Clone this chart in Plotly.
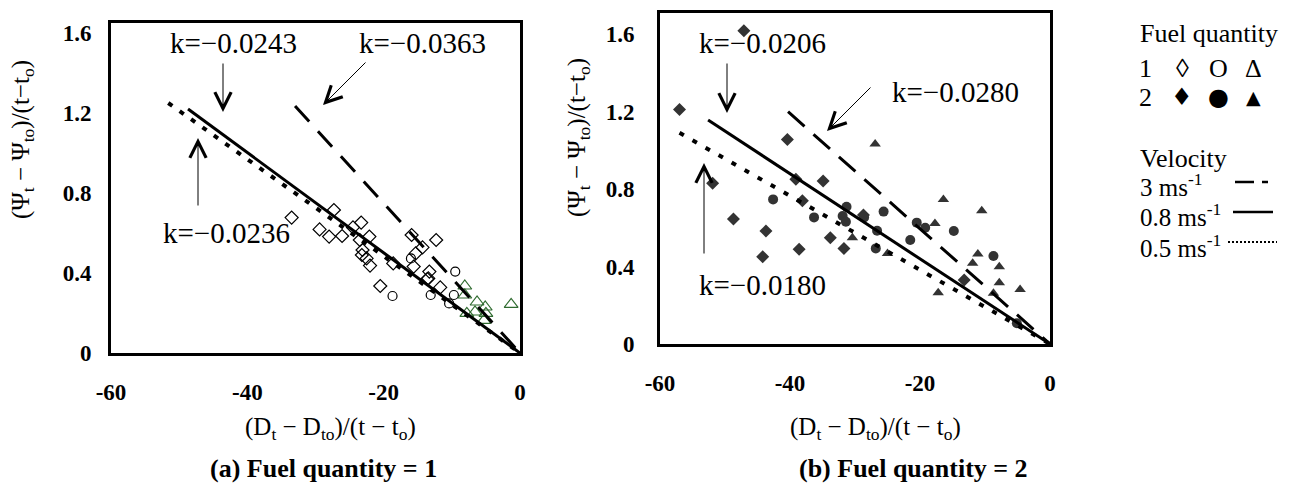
import plotly.graph_objects as go

W, H = 1295, 496

# ---------------- data: panel (a) Fuel quantity = 1 ----------------
a_diamond_x = [-33.5, -29.4, -28.0, -26.1, -27.3, -24.5, -23.3, -23.5, -22.1, -23.1, -23.2, -22.5,
               -22.0, -20.5, -15.6, -15.3, -14.3, -15.9, -12.3, -13.3, -13.45, -13.6, -11.7, -18.6]
a_diamond_y = [0.677, 0.618, 0.582, 0.585, 0.715, 0.628, 0.652, 0.565, 0.582, 0.515, 0.49, 0.473,
               0.437, 0.335, 0.432, 0.498, 0.528, 0.59, 0.565, 0.407, 0.373, 0.37, 0.328, 0.448]
a_circle_x = [-18.7, -16.0, -13.1, -9.5, -9.7, -10.4]
a_circle_y = [0.285, 0.473, 0.29, 0.407, 0.29, 0.248]
a_tri_x = [-8.1, -8.1, -6.3, -5.1, -6.6, -7.8, -5.0, -5.3, -1.3]
a_tri_y = [0.335, 0.29, 0.255, 0.23, 0.205, 0.198, 0.198, 0.163, 0.243]
a_v3_x, a_v3_y = [-33.0, 0], [1.235, 0]
a_v08_x, a_v08_y = [-48.7, 0], [1.22, 0]
a_v05_x, a_v05_y = [-51.6, 0], [1.25, 0]

# ---------------- data: panel (b) Fuel quantity = 2 ----------------
b_diamond_x = [-47.1, -57.0, -51.9, -48.7, -43.7, -44.2, -40.4, -38.6, -38.1, -34.9, -33.8, -31.7,
               -28.7, -39.1, -13.2]
b_diamond_y = [1.618, 1.212, 0.830, 0.646, 0.584, 0.451, 1.057, 0.489, 0.740, 0.842, 0.549, 0.494,
               0.666, 0.851, 0.331]
b_circle_x = [-42.6, -36.3, -31.9, -31.3, -31.4, -26.8, -26.6, -28.6, -25.6, -21.5, -20.5, -19.2,
              -14.8, -8.7, -5.1]
b_circle_y = [0.747, 0.654, 0.661, 0.709, 0.632, 0.494, 0.585, 0.654, 0.684, 0.537, 0.627, 0.601,
              0.584, 0.455, 0.107]
b_tri_x = [-26.9, -16.4, -10.5, -17.7, -30.4, -25.0, -11.1, -11.9, -7.8, -7.8, -17.2, -8.7, -4.6]
b_tri_y = [1.033, 0.747, 0.689, 0.623, 0.549, 0.468, 0.465, 0.417, 0.399, 0.317, 0.265, 0.262, 0.282]
b_v3_x, b_v3_y = [-40.3, 0], [1.20, 0]
b_v08_x, b_v08_y = [-52.6, 0], [1.157, 0]
b_v05_x, b_v05_y = [-57.0, 0], [1.091, 0]

# slopes / labels
a_k_labels = ["k=\u22120.0243", "k=\u22120.0363", "k=\u22120.0236"]
b_k_labels = ["k=\u22120.0206", "k=\u22120.0280", "k=\u22120.0180"]
x_tickvals = [-60, -40, -20, 0]
x_ticktext = ["-60", "-40", "-20", "0"]
y_tickvals = [0, 0.4, 0.8, 1.2, 1.6]
y_ticktext = ["0", "0.4", "0.8", "1.2", "1.6"]
captions = ["(a) Fuel quantity = 1", "(b) Fuel quantity = 2"]
velocity_labels = ["3 ms<sup>-1</sup>", "0.8 ms<sup>-1</sup>", "0.5 ms<sup>-1</sup>"]

SERIF = "Liberation Serif"
SYM = "DejaVu Sans"
GREEN = "#2f6b2f"
DARK = "#333333"

def px(x):
    return x / W

def py(y):
    return 1 - y / H

fig = go.Figure()

def add_lines(xa, ya, v3, v08, v05, d3, d05):
    fig.add_trace(go.Scatter(x=v3[0], y=v3[1], mode="lines", xaxis=xa, yaxis=ya,
                             line=dict(color="black", width=3, dash=d3), showlegend=False))
    fig.add_trace(go.Scatter(x=v08[0], y=v08[1], mode="lines", xaxis=xa, yaxis=ya,
                             line=dict(color="black", width=3), showlegend=False))
    fig.add_trace(go.Scatter(x=v05[0], y=v05[1], mode="lines", xaxis=xa, yaxis=ya,
                             line=dict(color="black", width=4, dash=d05), showlegend=False))

# panel (a)
fig.add_trace(go.Scatter(x=a_diamond_x, y=a_diamond_y, mode="markers", xaxis="x", yaxis="y",
                         marker=dict(symbol="diamond-open", size=10, color="black", line=dict(width=1.2)),
                         showlegend=False))
fig.add_trace(go.Scatter(x=a_circle_x, y=a_circle_y, mode="markers", xaxis="x", yaxis="y",
                         marker=dict(symbol="circle-open", size=9, color="black", line=dict(width=1.2)),
                         showlegend=False))
fig.add_trace(go.Scatter(x=a_tri_x, y=a_tri_y, mode="markers", xaxis="x", yaxis="y",
                         marker=dict(symbol="triangle-up-open", size=12, color=GREEN, line=dict(width=1.2)),
                         showlegend=False))
add_lines("x", "y", (a_v3_x, a_v3_y), (a_v08_x, a_v08_y), (a_v05_x, a_v05_y), "21px,13px", "5px,9px")

# panel (b)
fig.add_trace(go.Scatter(x=b_diamond_x, y=b_diamond_y, mode="markers", xaxis="x2", yaxis="y2",
                         marker=dict(symbol="diamond", size=10, color=DARK), showlegend=False))
fig.add_trace(go.Scatter(x=b_circle_x, y=b_circle_y, mode="markers", xaxis="x2", yaxis="y2",
                         marker=dict(symbol="circle", size=10, color=DARK), showlegend=False))
fig.add_trace(go.Scatter(x=b_tri_x, y=b_tri_y, mode="markers", xaxis="x2", yaxis="y2",
                         marker=dict(symbol="triangle-up", size=10, color=DARK), showlegend=False))
add_lines("x2", "y2", (b_v3_x, b_v3_y), (b_v08_x, b_v08_y), (b_v05_x, b_v05_y), "22px,12px", "5px,10px")

axis_common = dict(showgrid=False, zeroline=False, showline=True, linecolor="black", linewidth=3,
                   mirror=True, ticks="", automargin=False,
                   tickfont=dict(family=SERIF, size=23, color="black", weight="bold"))

fig.update_layout(
    width=W, height=H, margin=dict(l=0, r=0, t=0, b=0, autoexpand=False),
    paper_bgcolor="white", plot_bgcolor="white",
    xaxis=dict(domain=[px(111), px(520)], range=[-60, 0], tickvals=x_tickvals, ticktext=x_ticktext,
               anchor="y", ticklabelstandoff=16, **axis_common),
    yaxis=dict(domain=[py(353), py(23)], range=[0, 1.65], tickvals=y_tickvals, ticktext=y_ticktext,
               anchor="x", ticklabelstandoff=12, **axis_common),
    xaxis2=dict(domain=[px(660), px(1050)], range=[-60, 0], tickvals=x_tickvals, ticktext=x_ticktext,
                anchor="y2", ticklabelstandoff=16, **axis_common),
    yaxis2=dict(domain=[py(344), py(13)], range=[0, 1.71], tickvals=y_tickvals, ticktext=y_ticktext,
                anchor="x2", ticklabelstandoff=18, **axis_common),
)

ann = []

def text(t, x, y, size=24, bold=False, xanchor="center", angle=0, family=SERIF):
    ann.append(dict(text=t, x=px(x), y=py(y), xref="paper", yref="paper", showarrow=False,
                    xanchor=xanchor, yanchor="middle", textangle=angle,
                    font=dict(family=family, size=size, color="black",
                              weight="bold" if bold else "normal")))

def arrow(tip_x, tip_y, tail_x, tail_y):
    ann.append(dict(text="", x=px(tip_x), y=py(tip_y), xref="paper", yref="paper", showarrow=True,
                    ax=tail_x - tip_x, ay=tail_y - tip_y, axref="pixel", ayref="pixel",
                    arrowhead=5, arrowsize=3.2, arrowwidth=1, arrowcolor="black", standoff=0,
                    startstandoff=0))

# slope labels and arrows, panel (a)
text(a_k_labels[0], 233, 43, size=29)
arrow(223, 112, 223, 62)
text(a_k_labels[1], 422, 43, size=29)
arrow(323, 105, 367, 61)
text(a_k_labels[2], 226, 233, size=29)
arrow(198, 138, 198, 207)
# panel (b)
text(b_k_labels[0], 762, 43, size=29)
arrow(727, 113, 727, 62)
text(b_k_labels[1], 955, 92, size=29)
arrow(827, 131, 872, 86)
text(b_k_labels[2], 762, 285, size=29)
arrow(704, 163, 704, 255)

# axis titles
ytitle = "(\u03a8<sub>t</sub> \u2212 \u03a8<sub>to</sub>)/(t\u2212t<sub>o</sub>)"
xtitle = "(D<sub>t</sub> \u2212 D<sub>to</sub>)/(t \u2212 t<sub>o</sub>)"
text(ytitle, 22, 140, size=25, angle=-90)
text(ytitle, 578, 138, size=25, angle=-90)
text(xtitle, 330, 428, size=25)
text(xtitle, 875, 428, size=25)
text(captions[0], 323, 468, size=26, bold=True)
text(captions[1], 913, 468, size=26, bold=True)

# custom legend
text("Fuel quantity", 1138, 33, size=26, xanchor="left")
text("1", 1145, 68, size=26)
text("\u25ca", 1182, 68, size=26)
text("O", 1218, 68, size=26)
text("\u0394", 1253, 68, size=26)
text("2", 1145, 97, size=26)
text("\u2666", 1182, 97, size=24, family=SYM)
text("\u25cf", 1218, 97, size=24, family=SYM)
text("\u25b2", 1253, 97, size=19, family=SYM)
text("Velocity", 1138, 158, size=26, xanchor="left")
text(velocity_labels[0], 1138, 185, size=25, xanchor="left")
text(velocity_labels[1], 1138, 215, size=25, xanchor="left")
text(velocity_labels[2], 1138, 246, size=25, xanchor="left")

shapes = [
    dict(type="line", xref="paper", yref="paper", x0=px(1235), x1=px(1269), y0=py(182), y1=py(182),
         line=dict(color="black", width=2.5, dash="19px,8px,6px")),
    dict(type="line", xref="paper", yref="paper", x0=px(1233), x1=px(1273), y0=py(212), y1=py(212),
         line=dict(color="black", width=2.5)),
    dict(type="line", xref="paper", yref="paper", x0=px(1228), x1=px(1277), y0=py(242), y1=py(242),
         line=dict(color="black", width=2, dash="2px,2px")),
]

fig.update_layout(annotations=ann, shapes=shapes)
fig.write_html("out.html", config={"displayModeBar": False},
               post_script="document.body.style.margin='0';document.body.style.padding='0';")
